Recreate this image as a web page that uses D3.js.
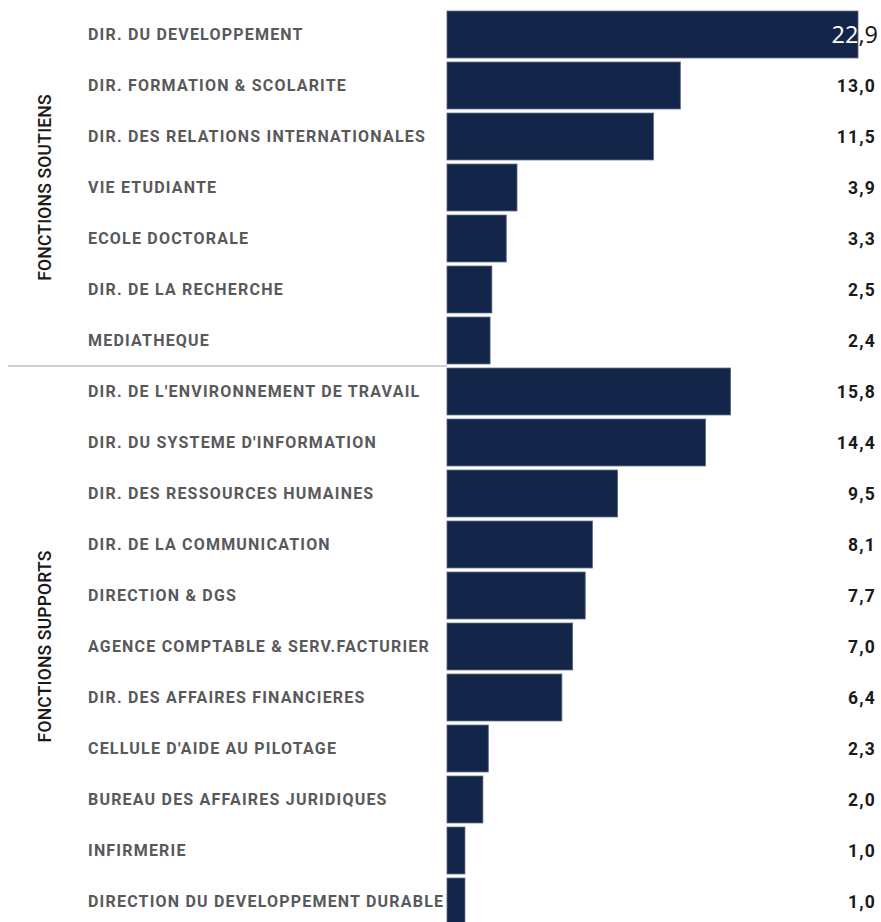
<!DOCTYPE html>
<html>
<head>
<meta charset="utf-8">
<script src="https://cdn.jsdelivr.net/npm/d3@7"></script>
<style>
  html, body { margin: 0; padding: 0; background: #fff; }
  svg { display: block; }
</style>
</head>
<body>
<svg id="chart" width="881" height="922"></svg>
<script>
// Services, grouped by function family, with their share (%)
const soutiensLabels = [
  "DIR. DU DEVELOPPEMENT",
  "DIR. FORMATION & SCOLARITE",
  "DIR. DES RELATIONS INTERNATIONALES",
  "VIE ETUDIANTE",
  "ECOLE DOCTORALE",
  "DIR. DE LA RECHERCHE",
  "MEDIATHEQUE"
];
const soutiensValues = [22.9, 13.0, 11.5, 3.9, 3.3, 2.5, 2.4];

const supportsLabels = [
  "DIR. DE L'ENVIRONNEMENT DE TRAVAIL",
  "DIR. DU SYSTEME D'INFORMATION",
  "DIR. DES RESSOURCES HUMAINES",
  "DIR. DE LA COMMUNICATION",
  "DIRECTION & DGS",
  "AGENCE COMPTABLE & SERV.FACTURIER",
  "DIR. DES AFFAIRES FINANCIERES",
  "CELLULE D'AIDE AU PILOTAGE",
  "BUREAU DES AFFAIRES JURIDIQUES",
  "INFIRMERIE",
  "DIRECTION DU DEVELOPPEMENT DURABLE"
];
const supportsValues = [15.8, 14.4, 9.5, 8.1, 7.7, 7.0, 6.4, 2.3, 2.0, 1.0, 1.0];

const groupNames = ["FONCTIONS SOUTIENS", "FONCTIONS SUPPORTS"];

const rows = [
  ...soutiensLabels.map((l, i) => ({ label: l, value: soutiensValues[i], group: 0 })),
  ...supportsLabels.map((l, i) => ({ label: l, value: supportsValues[i], group: 1 }))
];

const svg = d3.select("#chart");
const fmt = v => d3.format(".1f")(v).replace(".", ",");

const y = d3.scaleBand()
  .domain(rows.map(d => d.label))
  .range([9, 927])
  .paddingInner(0.08)
  .paddingOuter(0.04);

const x = d3.scaleLinear()
  .domain([0, d3.max(rows, d => d.value)])
  .range([447, 858]);

const barFill = "#13264a";

// bars
svg.append("g").selectAll("rect")
  .data(rows)
  .join("rect")
  .attr("x", x(0))
  .attr("y", d => y(d.label))
  .attr("width", d => x(d.value) - x(0))
  .attr("height", y.bandwidth())
  .attr("fill", barFill)
  .attr("stroke", "#56647e")
  .attr("stroke-width", 0.8);

// category labels
svg.append("g").selectAll("text")
  .data(rows)
  .join("text")
  .attr("x", 88)
  .attr("y", d => y(d.label) + y.bandwidth() / 2)
  .attr("dy", "0.35em")
  .attr("font-family", "Roboto, 'Noto Sans', sans-serif")
  .attr("font-weight", 700)
  .attr("font-size", 16)
  .attr("letter-spacing", 1.2)
  .attr("fill", "#58595b")
  .text(d => d.label);

// value labels
const valueRows = rows.filter(d => x(d.value) < 820);
svg.append("g").selectAll("text")
  .data(valueRows)
  .join("text")
  .attr("x", 876)
  .attr("y", d => y(d.label) + y.bandwidth() / 2)
  .attr("dy", "0.38em")
  .attr("text-anchor", "end")
  .attr("font-family", "Roboto, 'Noto Sans', sans-serif")
  .attr("font-weight", 700)
  .attr("font-size", 17.5)
  .attr("letter-spacing", 1.2)
  .attr("fill", "#1a1a1a")
  .text(d => fmt(d.value));

// value label overlapping its bar: dark outside, white inside
const wide = rows.filter(d => x(d.value) >= 820);
const defs = svg.append("defs");
wide.forEach((d, i) => {
  defs.append("clipPath").attr("id", "barclip" + i)
    .append("rect")
    .attr("x", x(0))
    .attr("y", y(d.label))
    .attr("width", x(d.value) - x(0))
    .attr("height", y.bandwidth());
  [["#111", null], ["#fff", "url(#barclip" + i + ")"]].forEach(([col, clip]) => {
    svg.append("text")
      .attr("x", 878)
      .attr("y", y(d.label) + y.bandwidth() / 2)
      .attr("dy", "0.36em")
      .attr("text-anchor", "end")
      .attr("font-family", "'Open Sans', 'Noto Sans', sans-serif")
      .attr("font-size", 23.5)
      .attr("fill", col)
      .attr("clip-path", clip)
      .text(fmt(d.value));
  });
});

// separator between the two groups
const lastSoutien = soutiensLabels[soutiensLabels.length - 1];
const sepY = y(lastSoutien) + y.bandwidth() + y.step() * y.paddingInner() / 2;
svg.append("line")
  .attr("x1", 8).attr("x2", x(0))
  .attr("y1", sepY).attr("y2", sepY)
  .attr("stroke", "#d0d0d0")
  .attr("stroke-width", 2);

// group titles, rotated
[soutiensLabels, supportsLabels].forEach((labels, gi) => {
  const y0 = y(labels[0]);
  const y1 = y(labels[labels.length - 1]) + y.bandwidth();
  const cy = (y0 + y1) / 2;
  svg.append("text")
    .attr("transform", `translate(45,${cy}) rotate(-90)`)
    .attr("dy", "0.35em")
    .attr("text-anchor", "middle")
    .attr("font-family", "Roboto, 'Noto Sans', sans-serif")
    .attr("font-weight", 500)
    .attr("font-size", 17.5)
    .attr("letter-spacing", 0.2)
    .attr("fill", "#1a1a1a")
    .text(groupNames[gi]);
});
</script>
</body>
</html>
